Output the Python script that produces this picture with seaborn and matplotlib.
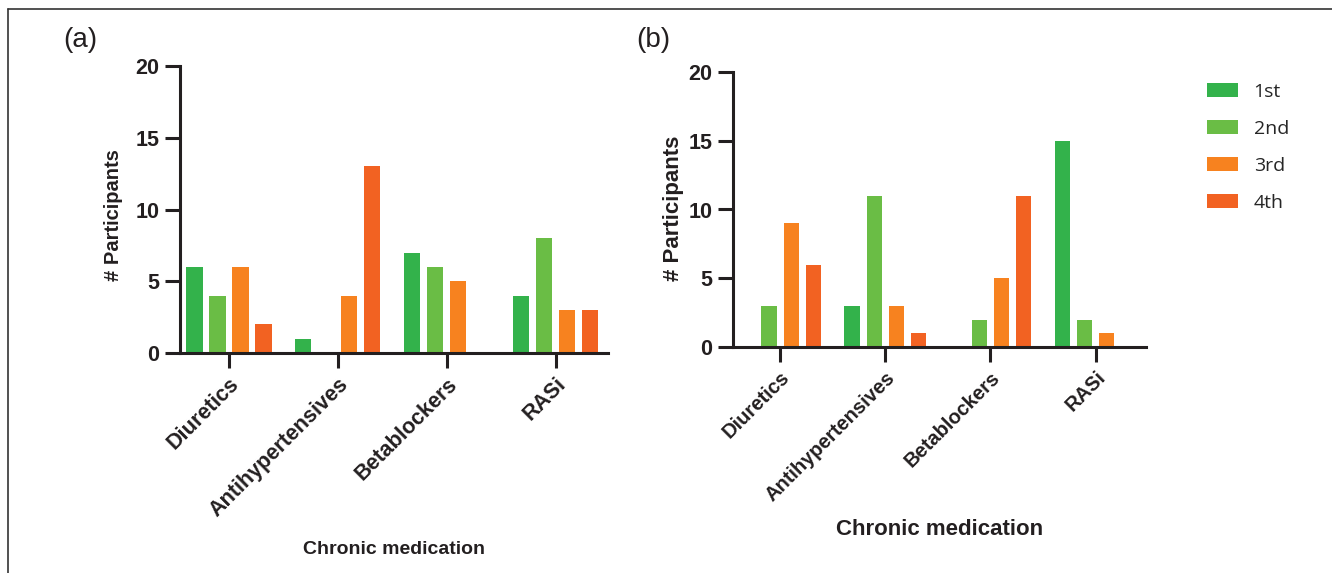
import pandas as pd
import matplotlib.pyplot as plt
import seaborn as sns
from matplotlib.lines import Line2D

# data
medications = ['Diuretics', 'Antihypertensives', 'Betablockers', 'RASi']
orders = ['1st', '2nd', '3rd', '4th']
colors = ['#33B24B', '#6ABD45', '#F7821F', '#F26222']

# panel (a)
a_1st = [6, 1, 7, 4]
a_2nd = [4, 0, 6, 8]
a_3rd = [6, 4, 5, 3]
a_4th = [2, 13, 0, 3]

# panel (b)
b_1st = [0, 3, 0, 15]
b_2nd = [3, 11, 2, 2]
b_3rd = [9, 3, 5, 1]
b_4th = [6, 1, 11, 0]


def to_long(series):
    rows = []
    for order, vals in zip(orders, series):
        for med, v in zip(medications, vals):
            rows.append({'medication': med, 'order': order, 'n': v})
    return pd.DataFrame(rows)


df_a = to_long([a_1st, a_2nd, a_3rd, a_4th])
df_b = to_long([b_1st, b_2nd, b_3rd, b_4th])

sns.set_style('ticks')
plt.rcParams['font.family'] = ['Liberation Sans', 'DejaVu Sans']
dark = '#231F20'

fig = plt.figure(figsize=(13.32, 5.73), dpi=100)
W, H = 1332, 573
ax1 = fig.add_axes([180 / W, 1 - 353 / H, (608 - 180) / W, (353 - 66) / H])
ax2 = fig.add_axes([733 / W, 1 - 347 / H, (1146 - 733) / W, (347 - 72) / H])

for ax, df, xsize in [(ax1, df_a, 15.5), (ax2, df_b, 14.5)]:
    sns.barplot(data=df, x='medication', y='n', hue='order', order=medications,
                hue_order=orders, palette=colors, width=0.844, gap=0.3,
                linewidth=0, saturation=1, ax=ax)
    ax.set_xlim(-0.45, 3.48)
    ax.set_ylim(0, 20)
    ax.set_yticks([0, 5, 10, 15, 20])
    sns.despine(ax=ax)
    for s in ['left', 'bottom']:
        ax.spines[s].set_linewidth(2.2)
        ax.spines[s].set_color(dark)
    ax.tick_params(axis='both', width=2.2, length=11, color=dark, labelcolor=dark)
    ax.tick_params(axis='y', labelsize=15.5, pad=4)
    ax.tick_params(axis='x', labelsize=xsize, pad=4)
    for lbl in ax.get_yticklabels():
        lbl.set_fontweight('bold')
    ax.set_xticks(range(len(medications)))
    ax.set_xticklabels(medications, rotation=45, ha='right', va='top',
                       rotation_mode='anchor', fontweight='bold')
    ax.set_xlabel('Chronic medication', fontweight='bold', color=dark)
    ax.set_ylabel('# Participants', fontweight='bold', color=dark)
    ax.xaxis.label.set_va('center')
    ax.yaxis.label.set_va('center')

ax1.xaxis.label.set_fontsize(14)
ax1.yaxis.label.set_fontsize(14.5)
ax1.xaxis.set_label_coords(0.5, -0.683)
ax1.yaxis.set_label_coords(-0.156, 0.48)

ax2.xaxis.label.set_fontsize(16)
ax2.yaxis.label.set_fontsize(16)
ax2.xaxis.set_label_coords(0.5, -0.665)
ax2.yaxis.set_label_coords(-0.145, 0.505)

# legend
ax1.legend_.remove()
handles, labels = ax2.get_legend_handles_labels()
ax2.legend_.remove()
fig.legend(handles, labels, loc='upper left', bbox_to_anchor=(1207 / W, 1 - 83 / H),
           bbox_transform=fig.transFigure, frameon=False, borderpad=0,
           borderaxespad=0, handlelength=1.6, handleheight=0.75,
           handletextpad=0.8, labelspacing=0.97,
           prop={'family': 'Open Sans', 'size': 14})

# panel letters
fig.text(80 / W, 1 - 40 / H, '(a)', fontsize=20, ha='center', va='center', color=dark)
fig.text(653 / W, 1 - 40 / H, '(b)', fontsize=20, ha='center', va='center', color=dark)

# frame lines
fig.add_artist(Line2D([8 / W, 8 / W], [0, 1 - 9 / H], transform=fig.transFigure,
                      color='#333333', linewidth=1.2))
fig.add_artist(Line2D([8 / W, 1], [1 - 9 / H, 1 - 9 / H], transform=fig.transFigure,
                      color='#333333', linewidth=1.2))

fig.savefig('out.png', dpi=100)
